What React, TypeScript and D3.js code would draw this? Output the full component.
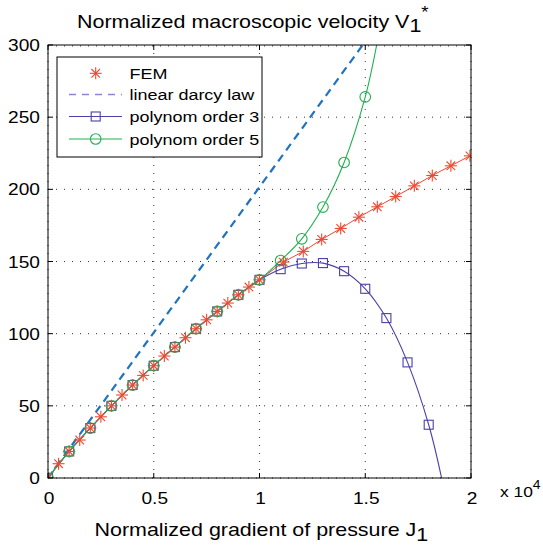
import React from "react";
import * as d3 from "d3";

// ---- data (J in units of 10^4) ----
const femJ = [0, 0.05, 0.1, 0.15, 0.2, 0.25, 0.3, 0.35, 0.4, 0.45, 0.5, 0.55, 0.6, 0.65, 0.7, 0.75, 0.8, 0.85, 0.9, 0.95, 1.0, 1.113, 1.207, 1.294, 1.384, 1.47, 1.557, 1.644, 1.732, 1.817, 1.905, 1.995];
const femV = [0, 9.9, 18.4, 26.3, 34.6, 42.4, 50.0, 57.5, 64.4, 71.1, 77.8, 84.5, 90.7, 97.2, 103.4, 109.6, 115.4, 121.2, 126.9, 132.3, 137.3, 149.6, 157.0, 165.3, 172.9, 180.7, 187.9, 195.0, 202.4, 209.6, 216.3, 223.2];

const darcyJ = [0, 1.488];
const darcyV = [0, 300];

const poly3J = [0, 0.1, 0.2, 0.3, 0.4, 0.5, 0.6, 0.7, 0.8, 0.9, 1.0, 1.1, 1.2, 1.3, 1.4, 1.5, 1.6, 1.7, 1.8];
const poly3V = [0, 18.4, 34.6, 50.0, 64.4, 77.8, 90.7, 103.4, 115.4, 126.9, 137.3, 144.7, 148.6, 148.9, 143.3, 131.1, 110.8, 80.1, 36.9];
const poly3EndJ = 1.861;
const poly3EndV = 0;

const poly5J = [0, 0.1, 0.2, 0.3, 0.4, 0.5, 0.6, 0.7, 0.8, 0.9, 1.0, 1.1, 1.2, 1.3, 1.4, 1.5];
const poly5V = [0, 18.4, 34.6, 50.0, 64.4, 77.8, 90.7, 103.4, 115.4, 126.9, 137.3, 150.7, 165.7, 187.7, 218.6, 264.0];
const poly5EndJ = 1.554;
const poly5EndV = 300;

const xTicks = [0, 0.5, 1, 1.5, 2];
const xTickLabels = ["0", "0.5", "1", "1.5", "2"];
const yTicks = [0, 50, 100, 150, 200, 250, 300];
const yTickLabels = ["0", "50", "100", "150", "200", "250", "300"];

const legendLabels = ["FEM", "linear darcy law", "polynom order 3", "polynom order 5"];

// ---- layout ----
const W = 543, H = 548;
const L = 48, R = 471, T = 45, B = 478;
const FONT = "'Liberation Sans', Arial, Helvetica, sans-serif";
const SX = 1.16;

const C_FEM = "#ec4a33";
const C_DARCY = "#1f73c0";
const C_DARCY_LEG = "#8a86d6";
const C_P3 = "#4b41a8";
const C_P5 = "#1fb050";

function Star({ x, y, c }: { x: number; y: number; c: string }) {
  const r = 6, d = 4.3;
  return (
    <g stroke={c} strokeWidth={1.1}>
      <line x1={x - r} y1={y} x2={x + r} y2={y} />
      <line x1={x} y1={y - r} x2={x} y2={y + r} />
      <line x1={x - d} y1={y - d} x2={x + d} y2={y + d} />
      <line x1={x - d} y1={y + d} x2={x + d} y2={y - d} />
    </g>
  );
}

function STxt({ x, y, size, anchor = "start", children }: any) {
  return (
    <text
      transform={`translate(${x},${y}) scale(${SX},1)`}
      fontSize={size}
      fontFamily={FONT}
      textAnchor={anchor}
      fill="#000"
    >
      {children}
    </text>
  );
}

export default function App() {
  const x = d3.scaleLinear().domain([0, 2]).range([L, R]);
  const y = d3.scaleLinear().domain([0, 300]).range([B, T]);

  const lin = d3.line<[number, number]>().x((d) => x(d[0])).y((d) => y(d[1]));
  const smooth = d3
    .line<[number, number]>()
    .x((d) => x(d[0]))
    .y((d) => y(d[1]))
    .curve(d3.curveCatmullRom.alpha(0.5));

  const femPts: [number, number][] = femJ.map((j, i) => [j, femV[i]]);
  const darcyPts: [number, number][] = darcyJ.map((j, i) => [j, darcyV[i]]);
  const p3Pts: [number, number][] = poly3J.map((j, i) => [j, poly3V[i]]);
  const p5Pts: [number, number][] = poly5J.map((j, i) => [j, poly5V[i]]);
  const p3Line = [...p3Pts, [poly3EndJ, poly3EndV] as [number, number]];
  const p5Line = [...p5Pts, [poly5EndJ, poly5EndV] as [number, number]];

  const tickLen = 5;
  const legX = 57, legY = 57, legW = 205, legH = 100;
  const rowY = [73.3, 94.6, 116.5, 139];
  const sampleX1 = 69, sampleX2 = 122, markX = 95.7, textX = 129.5;

  return (
    <svg
      width={W}
      height={H}
      style={{ position: "absolute", left: 0, top: 0, background: "#fff" }}
    >
      <defs>
        <clipPath id="plotClip">
          <rect x={L} y={T} width={R - L} height={B - T} />
        </clipPath>
      </defs>
      <rect x={0} y={0} width={W} height={H} fill="#fff" />

      {/* grid */}
      <g stroke="#333" strokeWidth={1} strokeDasharray="1 7">
        {xTicks.map((t) => (
          <line key={"gx" + t} x1={x(t)} x2={x(t)} y1={B} y2={T} />
        ))}
        {yTicks.map((t) => (
          <line key={"gy" + t} x1={L} x2={R} y1={y(t) + (t === 300 ? 1 : 0)} y2={y(t) + (t === 300 ? 1 : 0)} />
        ))}
      </g>

      {/* data */}
      <g clipPath="url(#plotClip)">
        <path d={lin(darcyPts) || ""} fill="none" stroke={C_DARCY} strokeWidth={2.2} strokeDasharray="8 5.5" />
        <path d={lin(femPts) || ""} fill="none" stroke={C_FEM} strokeWidth={1} />
        <path d={smooth(p3Line) || ""} fill="none" stroke={C_P3} strokeWidth={1.1} />
        {p3Pts.map((p, i) => (
          <rect key={"s" + i} x={x(p[0]) - 4.5} y={y(p[1]) - 4.5} width={9} height={9} fill="none" stroke={C_P3} strokeWidth={1.1} />
        ))}
        <path d={smooth(p5Line) || ""} fill="none" stroke={C_P5} strokeWidth={1.1} />
        {p5Pts.map((p, i) => (
          <circle key={"c" + i} cx={x(p[0])} cy={y(p[1])} r={5.3} fill="none" stroke={C_P5} strokeWidth={1.1} />
        ))}
        {femPts.map((p, i) => (
          <Star key={"f" + i} x={x(p[0])} y={y(p[1])} c={C_FEM} />
        ))}
      </g>

      {/* axes box and ticks */}
      <rect x={L} y={T} width={R - L} height={B - T} fill="none" stroke="#000" strokeWidth={1} />
      <g stroke="#000" strokeWidth={1}>
        {xTicks.map((t) => (
          <g key={"tx" + t}>
            <line x1={x(t)} x2={x(t)} y1={B} y2={B - tickLen} />
            <line x1={x(t)} x2={x(t)} y1={T} y2={T + tickLen} />
          </g>
        ))}
        {yTicks.map((t) => (
          <g key={"ty" + t}>
            <line x1={L} x2={L + tickLen} y1={y(t)} y2={y(t)} />
            <line x1={R} x2={R - tickLen} y1={y(t)} y2={y(t)} />
          </g>
        ))}
      </g>

      {/* tick labels */}
      {xTicks.map((t, i) => (
        <STxt key={"xl" + t} x={x(t) + 1} y={504} size={16.5} anchor="middle">
          {xTickLabels[i]}
        </STxt>
      ))}
      {yTicks.map((t, i) => (
        <STxt key={"yl" + t} x={40} y={y(t) + 6} size={16.5} anchor="end">
          {yTickLabels[i]}
        </STxt>
      ))}
      <STxt x={500} y={497} size={15}>
        x 10<tspan dy={-8} fontSize={12}>4</tspan>
      </STxt>

      {/* title */}
      <STxt x={77} y={28} size={18.5}>
        Normalized macroscopic velocity V<tspan dy={4}>1</tspan>
        <tspan dy={-14} fontSize={16}>*</tspan>
      </STxt>

      {/* x label */}
      <STxt x={94.5} y={536} size={18.5}>
        Normalized gradient of pressure J<tspan dy={5}>1</tspan>
      </STxt>

      {/* legend */}
      <rect x={legX} y={legY} width={legW} height={legH} fill="#fff" stroke="#000" strokeWidth={1} />
      <Star x={markX} y={rowY[0]} c={C_FEM} />
      <line x1={sampleX1} x2={sampleX2} y1={rowY[1]} y2={rowY[1]} stroke={C_DARCY_LEG} strokeWidth={1.5} strokeDasharray="7 6" />
      <line x1={sampleX1} x2={sampleX2} y1={rowY[2]} y2={rowY[2]} stroke={C_P3} strokeWidth={1.1} />
      <rect x={markX - 4.5} y={rowY[2] - 4.5} width={9} height={9} fill="none" stroke={C_P3} strokeWidth={1.1} />
      <line x1={sampleX1} x2={sampleX2} y1={rowY[3]} y2={rowY[3]} stroke={C_P5} strokeWidth={1.1} />
      <circle cx={markX} cy={rowY[3]} r={5.3} fill="none" stroke={C_P5} strokeWidth={1.1} />
      {legendLabels.map((lab, i) => (
        <STxt key={lab} x={textX} y={rowY[i] + 5.5} size={15.5}>
          {lab}
        </STxt>
      ))}
    </svg>
  );
}
